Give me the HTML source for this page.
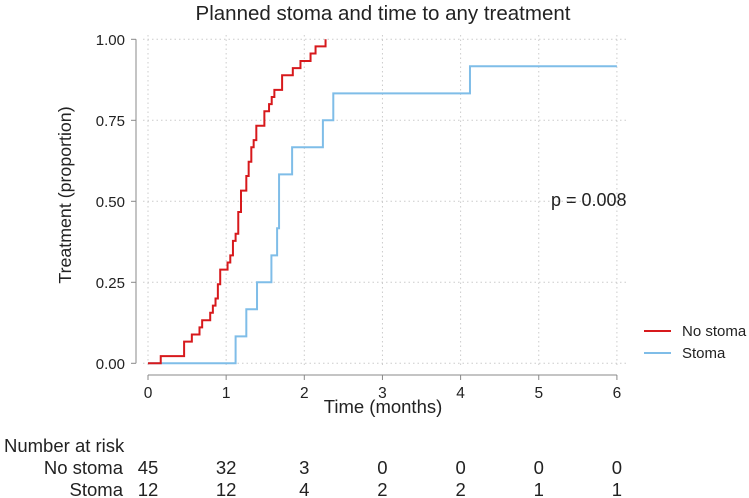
<!DOCTYPE html>
<html><head><meta charset="utf-8"><style>
body{margin:0;background:#fff;}
svg{display:block;font-family:"Liberation Sans",Arial,sans-serif;}
</style></head><body>
<svg width="749" height="498" viewBox="0 0 749 498" xmlns="http://www.w3.org/2000/svg">
<g id="grid"></g>
<g id="axes"></g>
<g id="series"></g>
<text x="383" y="20" font-size="20.5" text-anchor="middle" fill="#222">Planned stoma and time to any treatment</text>
<text transform="translate(71,195) rotate(-90)" font-size="17.8" text-anchor="middle" fill="#222">Treatment (proportion)</text>
<text x="383" y="413" font-size="18.5" text-anchor="middle" fill="#222">Time (months)</text>
<text x="551" y="206" font-size="18" fill="#222">p = 0.008</text>
<g>
<line x1="644" y1="331" x2="671" y2="331" stroke="#d7191c" stroke-width="2"/>
<text x="682" y="336" font-size="15" fill="#222">No stoma</text>
<line x1="644" y1="353" x2="671" y2="353" stroke="#7fbde8" stroke-width="2"/>
<text x="682" y="358" font-size="15" fill="#222">Stoma</text>
</g>
<text x="4" y="452" font-size="18.5" fill="#222">Number at risk</text>
<text x="123" y="474" font-size="18.5" text-anchor="end" fill="#222">No stoma</text>
<text x="123" y="496" font-size="18.5" text-anchor="end" fill="#222">Stoma</text>
<g id="risk"></g>
</svg>
<script>
const xTicks=[0,1,2,3,4,5,6];
const yTicks=[0,0.25,0.5,0.75,1];
const yTickLabels=["0.00","0.25","0.50","0.75","1.00"];
const noStomaTimes=[0.163,0.462,0.561,0.659,0.693,0.796,0.830,0.864,0.894,0.924,1.018,1.053,1.087,1.121,1.155,1.190,1.258,1.288,1.322,1.352,1.386,1.489,1.549,1.583,1.617,1.716,1.853,1.951,2.080,2.144,2.272];
const noStomaValues=[0.022,0.067,0.089,0.111,0.133,0.156,0.178,0.2,0.244,0.289,0.311,0.333,0.378,0.4,0.467,0.533,0.578,0.622,0.667,0.689,0.733,0.778,0.8,0.822,0.844,0.889,0.911,0.933,0.956,0.978,1.0];
const stomaTimes=[1.121,1.258,1.395,1.579,1.652,1.677,1.844,2.238,2.371,4.12];
const stomaValues=[0.083,0.167,0.25,0.333,0.417,0.583,0.667,0.75,0.833,0.917];
const stomaEnd=6;
const riskNoStoma=[45,32,3,0,0,0,0];
const riskStoma=[12,12,4,2,2,1,1];
const NS="http://www.w3.org/2000/svg";
const X=t=>148+t*78.15, Y=v=>363.3-v*324;
function mk(tag,attrs,parent){const e=document.createElementNS(NS,tag);for(const k in attrs)e.setAttribute(k,attrs[k]);parent.appendChild(e);return e;}
const grid=document.getElementById('grid'),axes=document.getElementById('axes'),series=document.getElementById('series'),risk=document.getElementById('risk');
yTicks.forEach((v,i)=>{
 let g=mk('line',{x1:143,x2:626,y1:Y(v),y2:Y(v),stroke:'#ccc','stroke-dasharray':'1.5,3'},grid);
 
 
 let t=mk('line',{x1:131,x2:136,y1:Y(v),y2:Y(v),stroke:'#888'},axes);
 
 
 let l=mk('text',{x:125,y:Y(v)+5.5,'font-size':15,'text-anchor':'end',fill:'#222'},axes);
 l.textContent=yTickLabels[i];
 
 
});
xTicks.forEach((t,i)=>{
 let g=mk('line',{x1:X(t),x2:X(t),y1:35,y2:366,stroke:'#ccc','stroke-dasharray':'1.5,3'},grid);
 
 
 let tk=mk('line',{x1:X(t),x2:X(t),y1:375,y2:380,stroke:'#888'},axes);
 
 
 let l=mk('text',{x:X(t),y:398,'font-size':15.5,'text-anchor':'middle',fill:'#222'},axes);
 l.textContent=t;
 
 
 let r1=mk('text',{x:X(t),y:474,'font-size':18.5,'text-anchor':'middle',fill:'#222'},risk);
 r1.textContent=riskNoStoma[i];
 
 
 let r2=mk('text',{x:X(t),y:496,'font-size':18.5,'text-anchor':'middle',fill:'#222'},risk);
 r2.textContent=riskStoma[i];
 
 
});
let ya=mk('line',{x1:136,x2:136,y1:Y(1),y2:Y(0),stroke:'#888'},axes);


let xa=mk('line',{x1:X(0),x2:X(6),y1:375,y2:375,stroke:'#888'},axes);


function stepPath(times,vals,end){
 let d='M'+X(0)+','+Y(0);
 times.forEach((t,i)=>{d+=' H'+X(t)+' V'+Y(vals[i]);});
 if(end!=null)d+=' H'+X(end);
 return d;
}
let s=mk('path',{d:stepPath(stomaTimes,stomaValues,stomaEnd),fill:'none',stroke:'#7fbde8','stroke-width':2},series);


let n=mk('path',{d:stepPath(noStomaTimes,noStomaValues,null),fill:'none',stroke:'#d7191c','stroke-width':2},series);


</script>
</body></html>
